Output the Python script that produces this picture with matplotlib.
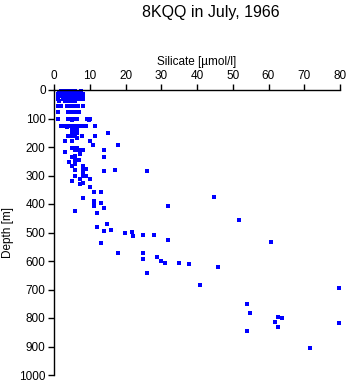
import matplotlib
matplotlib.use("Agg")
import matplotlib.pyplot as plt

title = "8KQQ in July, 1966"
x_label = "Silicate [\u00b5mol/l]"
y_label = "Depth [m]"
x_ticks = [0, 10, 20, 30, 40, 50, 60, 70, 80]
y_ticks = [0, 100, 200, 300, 400, 500, 600, 700, 800, 900, 1000]

# (depth, [silicate values at that depth])
depth_levels = [2, 8, 15, 22, 30, 38, 55, 78, 100, 105, 125, 130, 140, 152, 160,
                170, 180, 192, 205, 211, 219, 225, 232, 236, 245, 254, 260, 266,
                269, 278, 281, 283, 284, 289, 301, 302, 313, 318, 327, 330, 339,
                358, 375, 380, 389, 398, 407, 415, 426, 430, 455, 471, 482, 491,
                495, 497, 502, 509, 510, 513, 525, 534, 538, 573, 585, 592, 601,
                608, 612, 622, 643, 684, 694, 751, 784, 795, 800, 814, 816, 833,
                847, 906]
silicate_at_level = [
    [2, 3, 4, 4.5, 5, 5.5, 6, 7.5],
    [1.5, 2.5, 3.5, 4.5, 5.5, 6.5, 7.5],
    [1.2, 2, 3, 4, 5, 6, 7, 8],
    [1.2, 2, 3, 4, 5, 6, 7, 8.2],
    [1.2, 2.5, 3.5, 4.5, 5, 6, 7, 8],
    [1.5, 3, 4, 5, 6],
    [1.2, 2, 3.5, 4.2, 5, 5.8, 6.8, 8],
    [1.2, 3.8, 4.5, 5.2, 6, 7],
    [1.2, 4, 5, 5.8, 6.5, 9.2, 10.2],
    [5, 9.8],
    [2, 2.8, 4, 5, 6, 7, 8, 9, 11.5],
    [3.5],
    [5, 5.8, 6.5],
    [5, 5.8, 6.3, 15],
    [4, 5, 6, 7.8, 11.5],
    [6.5],
    [3, 5, 10.2],
    [11, 18],
    [5, 5.8, 6.5],
    [6, 7, 8.1, 14],
    [3.2],
    [7.2],
    [6],
    [5, 14],
    [6, 7],
    [4.1],
    [6],
    [5, 8.1],
    [8.1],
    [8.1, 9],
    [6, 17.1],
    [14],
    [26],
    [8.1],
    [6, 8.1],
    [9],
    [7.2, 10.2],
    [5],
    [8.1],
    [7.2],
    [10.2],
    [11.1, 13.1],
    [44.8],
    [8.1],
    [11.1],
    [11.1, 13.1],
    [11.1, 31.9],
    [14],
    [6],
    [12.1],
    [51.8],
    [14.9],
    [12.1],
    [16],
    [14],
    [21.9],
    [19.9],
    [28],
    [25],
    [22.1],
    [31.9],
    [60.8],
    [13.1],
    [18, 25],
    [28.9],
    [25],
    [30],
    [31, 35],
    [37.9],
    [45.9],
    [26.1],
    [40.9],
    [79.8],
    [53.9],
    [54.8],
    [62.7],
    [63.9],
    [61.9],
    [79.8],
    [62.7],
    [53.9],
    [71.7],
]

silicate = []
depth = []
for d, vals in zip(depth_levels, silicate_at_level):
    for v in vals:
        silicate.append(v)
        depth.append(d)

plt.rcParams['font.family'] = ['Liberation Sans', 'DejaVu Sans']

fig = plt.figure(figsize=(3.48, 3.84), dpi=100)
ax = fig.add_axes([54/348, 1 - 375/384, (340 - 54)/348, (375 - 90)/384])

ax.scatter(silicate, depth, marker='s', s=7, color='#0000ff', linewidths=0,
           clip_on=False, antialiased=False)

ax.set_xlim(0, 80)
ax.set_ylim(1000, 0)
ax.set_xticks(x_ticks)
ax.set_yticks(y_ticks)
ax.xaxis.tick_top()
ax.xaxis.set_label_position('top')
ax.spines['right'].set_visible(False)
ax.spines['bottom'].set_visible(False)
ax.spines['top'].set_linewidth(1.0)
ax.spines['left'].set_linewidth(1.0)
ax.tick_params(axis='both', direction='out', length=4, width=1.0, labelsize=8.5, pad=2)
ax.set_xlabel(x_label, fontsize=8.5, labelpad=3)
ax.set_ylabel(y_label, fontsize=8.5, labelpad=4)

fig.text(211/348, 1 - 12/384, title, ha='center', va='center', fontsize=11.5)

fig.savefig("out.png", dpi=100)
